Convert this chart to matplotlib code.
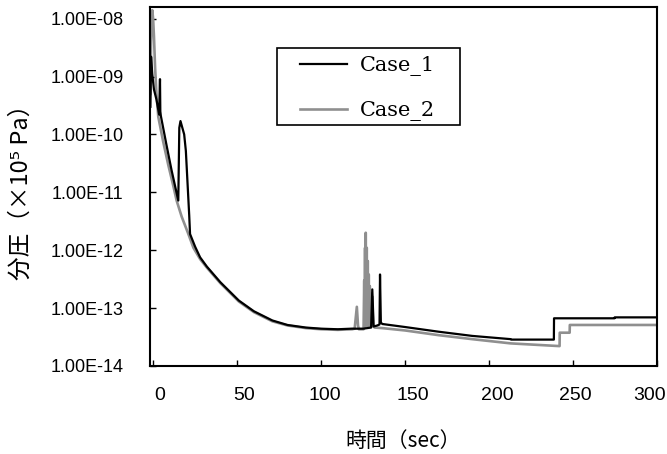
import matplotlib
matplotlib.use("Agg")
import matplotlib.pyplot as plt
from matplotlib.patches import Rectangle
from matplotlib.ticker import FixedLocator, FuncFormatter
from matplotlib.transforms import ScaledTranslation

# --- dados ---
t_case1 = [-1.6, -1.2, -0.5, 0.5, 2.0, 3.6, 4.1, 4.3, 4.6, 8.0, 11.0, 15.0, 15.6, 16.3, 18.5, 19.5,
           21.5, 22.0, 25.0, 28.0, 32.0, 40.0, 51.0, 60.0, 71.0, 80.0, 91.0, 100.0, 110.0, 118.0,
           125.0, 129.8, 130.5, 131.3, 133.5, 134.8, 135.1, 135.6, 136.5, 150.0, 170.0, 190.0,
           213.0, 213.2, 238.6, 238.7, 274.7, 274.8, 300.0]
p_case1 = [3.0e-10, 2.2e-9, 1.1e-9, 6.0e-10, 4.0e-10, 2.2e-10, 9.0e-10, 2.5e-10, 2.1e-10, 6.5e-11,
           2.4e-11, 7.2e-12, 1.3e-10, 1.7e-10, 1.0e-10, 5.2e-11,
           4.0e-12, 1.9e-12, 1.15e-12, 7.5e-13, 5.2e-13, 2.8e-13, 1.35e-13, 8.8e-14, 6.1e-14, 5.1e-14,
           4.6e-14, 4.4e-14, 4.3e-14, 4.4e-14,
           4.4e-14, 4.6e-14, 2.1e-13, 4.8e-14, 5.0e-14, 5.2e-14, 3.8e-13, 5.6e-14, 5.3e-14, 4.7e-14,
           3.9e-14, 3.3e-14, 2.9e-14, 2.85e-14, 2.85e-14, 6.65e-14, 6.65e-14, 6.9e-14, 6.9e-14]

t_case2 = [-1.6, -1.2, -0.5, 0.0, 0.5, 1.2, 2.0, 3.1, 6.0, 9.0, 12.0, 14.0, 17.0, 21.0, 24.0, 28.0,
           32.0, 40.0, 51.0, 60.0, 71.0, 80.0, 91.0, 100.0, 110.0, 118.5, 120.0, 121.3, 122.0, 122.5,
           125.3, 125.7, 125.9, 126.2, 126.4, 126.6, 126.9, 127.2, 127.5, 127.8, 128.1, 128.4, 128.7,
           129.0, 129.3, 129.6, 130.0, 130.4, 131.0, 132.0, 136.5, 150.0, 170.0, 190.0, 213.0,
           242.0, 242.1, 248.0, 248.1, 300.0]
p_case2 = [5.0e-10, 4.0e-9, 1.4e-8, 1.0e-8, 5.0e-9, 1.4e-9, 5.0e-10, 2.0e-10, 7.5e-11, 3.0e-11,
           1.3e-11, 7.2e-12, 3.8e-12, 1.9e-12, 1.1e-12, 7.0e-13,
           5.0e-13, 2.7e-13, 1.3e-13, 8.5e-14, 5.9e-14, 5.0e-14, 4.5e-14, 4.3e-14, 4.2e-14, 4.3e-14,
           4.4e-14, 1.05e-13, 5.0e-14, 4.3e-14,
           4.3e-14, 3.0e-13, 4.5e-14, 1.1e-12, 5.0e-14, 2.0e-12, 5.0e-14, 1.1e-12, 5.0e-14, 6.5e-13,
           5.0e-14, 3.8e-13, 5.0e-14, 2.4e-13, 5.0e-14, 1.8e-13, 5.0e-14, 1.6e-13, 4.8e-14, 4.6e-14,
           4.5e-14, 4.1e-14, 3.4e-14, 2.9e-14, 2.45e-14, 2.2e-14, 3.75e-14, 3.75e-14, 5.1e-14, 5.1e-14]

y_ticks = [1e-14, 1e-13, 1e-12, 1e-11, 1e-10, 1e-9, 1e-8]
x_ticks = [0, 50, 100, 150, 200, 250, 300]
y_label = "分圧（×10⁵ Pa）"
x_label = "時間（sec）"
series_labels = ["Case_1", "Case_2"]

fig = plt.figure(figsize=(6.67, 4.54), dpi=100)
ax = fig.add_axes([0.225, 0.194, 0.760, 0.791])

ax.plot(t_case1, p_case1, color="black", lw=1.6, label=series_labels[0], zorder=3)
ax.plot(t_case2, p_case2, color="#8f8f8f", lw=1.9, label=series_labels[1], zorder=2)

ax.set_yscale("log")
ax.set_xlim(-1.8, 300)
ax.set_ylim(1e-14, 1.6e-8)
ax.yaxis.set_major_locator(FixedLocator(y_ticks))
ax.yaxis.set_minor_locator(FixedLocator([]))
ax.yaxis.set_major_formatter(FuncFormatter(lambda v, pos: f"{v:.2E}"))
ax.set_xticks(x_ticks)

ax.tick_params(axis="both", direction="in", length=4, width=1,
               labelfontfamily="Liberation Sans")
ax.tick_params(axis="y", pad=19, labelsize=13)
ax.tick_params(axis="x", pad=15, labelsize=14)
for sp in ax.spines.values():
    sp.set_linewidth(1.5)

# deslocamento dos rótulos do eixo x como no original (em pixels)
desloc_px = [7, 7, 4, 8, 8, 2, -7]
for lbl, dx in zip(ax.get_xticklabels(), desloc_px):
    lbl.set_transform(lbl.get_transform() + ScaledTranslation(dx / 100, 0, fig.dpi_scale_trans))

cjk = ["Noto Sans CJK JP", "DejaVu Sans"]
ax.set_ylabel(y_label, family=cjk, fontsize=17, labelpad=13)
ax.set_xlabel(x_label, family=cjk, fontsize=15, labelpad=19)

# moldura da legenda
ax.add_patch(Rectangle((0.250, 0.671), 0.361, 0.215, transform=ax.transAxes,
                       facecolor="white", edgecolor="black", lw=1.2, zorder=4))
leg = ax.legend(loc="upper left", bbox_to_anchor=(0.296, 0.863), borderaxespad=0,
                prop={"family": "DejaVu Serif", "size": 15},
                handlelength=2.26, handletextpad=0.62, labelspacing=1.2,
                borderpad=0, frameon=False)
leg.set_zorder(5)

fig.savefig("out.png", dpi=100)
